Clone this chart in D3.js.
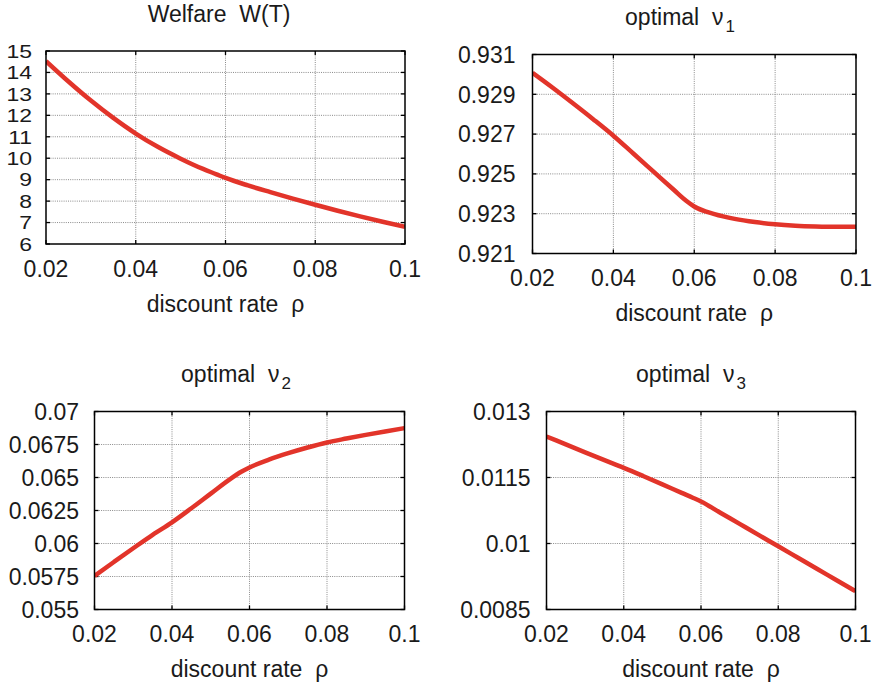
<!DOCTYPE html>
<html>
<head>
<meta charset="utf-8">
<script src="https://cdn.jsdelivr.net/npm/d3@7"></script>
<style>
  html, body { margin: 0; padding: 0; background: #fff; }
  svg { display: block; font-family: "Liberation Sans", Arial, sans-serif; }
  text { white-space: pre; fill: #1a1a1a; }
</style>
</head>
<body>
<svg id="chart" width="880" height="688"></svg>
<script>
// discount rate grid shared by all four series
const rho = [0.02, 0.025, 0.03, 0.035, 0.04, 0.045, 0.05, 0.055, 0.058, 0.06,
             0.065, 0.07, 0.075, 0.08, 0.085, 0.09, 0.095, 0.1];

// welfare W(T)
const welfare = [14.53, 13.58, 12.69, 11.88, 11.15, 10.52, 9.98, 9.50, 9.25, 9.08,
                 8.73, 8.42, 8.12, 7.83, 7.55, 7.29, 7.04, 6.80];

// optimal nu_1
const nu1 = [0.93008, 0.92933, 0.92855, 0.92775, 0.92692, 0.92601, 0.92510, 0.92419, 0.92365, 0.92336,
             0.92298, 0.92274, 0.92258, 0.92247, 0.92240, 0.92236, 0.92234, 0.92234];

// optimal nu_2
const nu2 = [0.05755, 0.05860, 0.05964, 0.06066, 0.06160, 0.06267, 0.06378, 0.06488, 0.06545, 0.06576,
             0.06635, 0.06684, 0.06727, 0.06765, 0.06795, 0.06823, 0.06849, 0.06874];

// optimal nu_3
const nu3 = [0.012432, 0.012252, 0.012072, 0.011895, 0.01172, 0.011535, 0.011345, 0.011150, 0.011035, 0.010955,
             0.010700, 0.010445, 0.010190, 0.009936, 0.009681, 0.009426, 0.009172, 0.008917];

// tick labels
const xTicks = [0.02, 0.04, 0.06, 0.08, 0.1];
const xTickLabels = ["0.02", "0.04", "0.06", "0.08", "0.1"];
const welfareTicks = [6, 7, 8, 9, 10, 11, 12, 13, 14, 15];
const welfareTickLabels = ["6", "7", "8", "9", "10", "11", "12", "13", "14", "15"];
const nu1Ticks = [0.921, 0.923, 0.925, 0.927, 0.929, 0.931];
const nu1TickLabels = ["0.921", "0.923", "0.925", "0.927", "0.929", "0.931"];
const nu2Ticks = [0.055, 0.0575, 0.06, 0.0625, 0.065, 0.0675, 0.07];
const nu2TickLabels = ["0.055", "0.0575", "0.06", "0.0625", "0.065", "0.0675", "0.07"];
const nu3Ticks = [0.0085, 0.01, 0.0115, 0.013];
const nu3TickLabels = ["0.0085", "0.01", "0.0115", "0.013"];

const xTitle = "discount rate  ρ";

// panel layout (frame edges in pixels)
const panels = [
  { title: "Welfare  W(T)", sub: null, values: welfare, ticks: welfareTicks, labels: welfareTickLabels,
    x0: 46, x1: 405, y0: 51, y1: 244, labelGap: 14, labelSquash: 0.82, titleX: 219 },
  { title: "optimal  ν", sub: "1", values: nu1, ticks: nu1Ticks, labels: nu1TickLabels,
    x0: 532.5, x1: 856, y0: 54.5, y1: 253.5, labelGap: 17, labelSquash: 1, titleX: 680 },
  { title: "optimal  ν", sub: "2", values: nu2, ticks: nu2Ticks, labels: nu2TickLabels,
    x0: 94.5, x1: 404.5, y0: 411.5, y1: 609.5, labelGap: 15.5, labelSquash: 1, titleX: 236 },
  { title: "optimal  ν", sub: "3", values: nu3, ticks: nu3Ticks, labels: nu3TickLabels,
    x0: 546.5, x1: 855.5, y0: 411.5, y1: 609.5, labelGap: 16, labelSquash: 1, titleX: 691 }
];

const svg = d3.select("#chart");
const RED = "#e2342a";
const FONT = 23;

panels.forEach(p => {
  const x = d3.scaleLinear().domain([0.02, 0.1]).range([p.x0, p.x1]);
  const y = d3.scaleLinear().domain([p.ticks[0], p.ticks[p.ticks.length - 1]]).range([p.y1, p.y0]);
  const g = svg.append("g");

  // dotted grid
  g.selectAll(".gx").data(xTicks.slice(1, -1)).join("line")
    .attr("x1", d => x(d)).attr("x2", d => x(d))
    .attr("y1", p.y0).attr("y2", p.y1)
    .attr("stroke", "#8a8a8a").attr("stroke-width", 1).attr("stroke-dasharray", "1,1.2");
  g.selectAll(".gy").data(p.ticks.slice(1, -1)).join("line")
    .attr("x1", p.x0).attr("x2", p.x1)
    .attr("y1", d => y(d)).attr("y2", d => y(d))
    .attr("stroke", "#8a8a8a").attr("stroke-width", 1).attr("stroke-dasharray", "1,1.2");

  // inward tick marks on all four sides
  const tl = 4;
  xTicks.forEach(t => {
    g.append("line").attr("x1", x(t)).attr("x2", x(t)).attr("y1", p.y1).attr("y2", p.y1 - tl)
      .attr("stroke", "#000").attr("stroke-width", 1.3);
    g.append("line").attr("x1", x(t)).attr("x2", x(t)).attr("y1", p.y0).attr("y2", p.y0 + tl)
      .attr("stroke", "#000").attr("stroke-width", 1.3);
  });
  p.ticks.forEach(t => {
    g.append("line").attr("x1", p.x0).attr("x2", p.x0 + tl).attr("y1", y(t)).attr("y2", y(t))
      .attr("stroke", "#000").attr("stroke-width", 1.3);
    g.append("line").attr("x1", p.x1).attr("x2", p.x1 - tl).attr("y1", y(t)).attr("y2", y(t))
      .attr("stroke", "#000").attr("stroke-width", 1.3);
  });

  // data curve
  const line = d3.line()
    .x((d, i) => x(rho[i]))
    .y(d => y(d))
    .curve(d3.curveMonotoneX);
  const clipId = "clip" + Math.round(p.x0);
  svg.append("clipPath").attr("id", clipId).append("rect")
    .attr("x", p.x0).attr("y", p.y0).attr("width", p.x1 - p.x0).attr("height", p.y1 - p.y0);
  g.append("path").datum(p.values)
    .attr("d", line)
    .attr("fill", "none")
    .attr("stroke", RED)
    .attr("stroke-width", 4.5)
    .attr("stroke-linejoin", "round")
    .attr("clip-path", `url(#${clipId})`);

  // frame
  g.append("rect").attr("x", p.x0).attr("y", p.y0)
    .attr("width", p.x1 - p.x0).attr("height", p.y1 - p.y0)
    .attr("fill", "none").attr("stroke", "#000").attr("stroke-width", 1.5);

  // y tick labels
  p.ticks.forEach((t, i) => {
    g.append("text")
      .attr("transform", `translate(${p.x0 - p.labelGap},${y(t)}) scale(1,${p.labelSquash})`)
      .attr("text-anchor", "end")
      .attr("dy", "0.36em")
      .attr("font-size", FONT)
      .text(p.labels[i]);
  });

  // x tick labels
  xTicks.forEach((t, i) => {
    g.append("text")
      .attr("x", x(t)).attr("y", p.y1 + 32.5)
      .attr("text-anchor", "middle")
      .attr("font-size", FONT)
      .text(xTickLabels[i]);
  });

  // x axis title
  g.append("text")
    .attr("x", (p.x0 + p.x1) / 2).attr("y", p.y1 + 67.5)
    .attr("text-anchor", "middle")
    .attr("font-size", FONT)
    .text(xTitle);

  // panel title, with subscript index where needed
  const tt = g.append("text")
    .attr("x", p.titleX).attr("y", p.y0 - 29.5)
    .attr("text-anchor", "middle")
    .attr("font-size", FONT)
    .text(p.title);
  if (p.sub) {
    tt.append("tspan").attr("font-size", 17).attr("dx", 2).attr("dy", 7).text(p.sub);
  }
});
</script>
</body>
</html>
